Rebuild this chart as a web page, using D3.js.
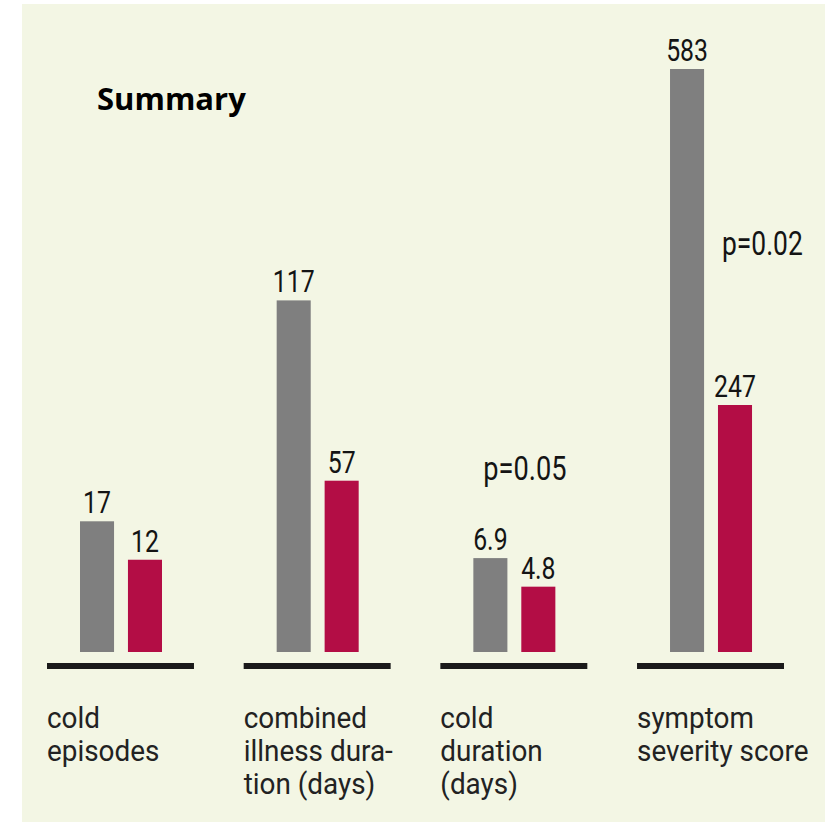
<!DOCTYPE html>
<html>
<head>
<meta charset="utf-8">
<script src="https://cdn.jsdelivr.net/npm/d3@7"></script>
<style>
  body { margin: 0; background: #fff; }
  svg { display: block; }
</style>
</head>
<body>
<div id="chart"></div>
<script>
// data
var categories = ['cold episodes', 'combined illness duration (days)', 'cold duration (days)', 'symptom severity score'];
var labelLines = [
  ['cold', 'episodes'],
  ['combined', 'illness dura-', 'tion (days)'],
  ['cold', 'duration', '(days)'],
  ['symptom', 'severity score']
];
var series = ['control', 'treated'];
var controlValues = [17, 117, 6.9, 583];
var treatedValues = [12, 57, 4.8, 247];
var valueLabels = [['17', '12'], ['117', '57'], ['6.9', '4.8'], ['583', '247']];
var pValues = [null, null, 'p=0.05', 'p=0.02'];
// each panel has its own scale in the original graphic
var scaleMax = [77, 197, 43.5, 592];

var width = 825;
var height = 823;
var baseY = 652;
var topY = 60;
var font = 'Roboto, "Liberation Sans", sans-serif';

var colors = d3.scaleOrdinal()
              .domain(series)
              .range(['#7f7f7f', '#b30d45']);

var x0 = d3.scaleBand()
           .domain(categories)
           .range([47, 784])
           .paddingInner(0.2527);

var x1 = d3.scaleBand()
           .domain(series)
           .range([33, 115])
           .paddingInner(0.29);

var svg = d3.select('#chart')
            .append('svg')
            .attr('width', width)
            .attr('height', height);

// cream panel
svg.append('rect')
   .attr('x', 22)
   .attr('y', 4)
   .attr('width', width - 22)
   .attr('height', 818)
   .attr('fill', '#f3f6e4');

svg.append('text')
   .attr('x', 97)
   .attr('y', 110)
   .attr('font-family', '"Open Sans", sans-serif')
   .attr('font-weight', 'bold')
   .attr('font-size', 31)
   .attr('fill', '#000')
   .text('Summary');

// condensed text: squeeze horizontally
function narrowText(parent, x, y, sx, size, anchor, txt) {
  return parent.append('text')
               .attr('transform', 'translate(' + x + ',' + y + ') scale(' + sx + ',1)')
               .attr('text-anchor', anchor)
               .attr('font-family', font)
               .attr('font-size', size)
               .attr('fill', '#141414')
               .text(txt);
}

var groups = svg.selectAll('.group')
                .data(categories)
                .enter()
                .append('g')
                  .attr('class', 'group')
                  .attr('transform', function (d) { return 'translate(' + x0(d) + ',0)'; });

groups.each(function (cat, i) {
  var g = d3.select(this);
  var y = d3.scaleLinear()
            .domain([0, scaleMax[i]])
            .range([baseY, topY]);
  var vals = [controlValues[i], treatedValues[i]];

  g.selectAll('rect')
   .data(series)
   .enter()
   .append('rect')
     .attr('x', function (s) { return x1(s); })
     .attr('width', x1.bandwidth())
     .attr('y', function (s, j) { return y(vals[j]); })
     .attr('height', function (s, j) { return baseY - y(vals[j]); })
     .attr('fill', function (s) { return colors(s); });

  series.forEach(function (s, j) {
    narrowText(g, x1(s) + x1.bandwidth() / 2, y(vals[j]) - 8, 0.8, 31, 'middle', valueLabels[i][j]);
  });

  // baseline bar
  g.append('rect')
   .attr('x', 0)
   .attr('y', baseY + 11)
   .attr('width', x0.bandwidth())
   .attr('height', 6)
   .attr('fill', '#1a1a1a');

  var lbl = g.append('text')
             .attr('transform', 'translate(0,728) scale(0.93,1)')
             .attr('font-family', font)
             .attr('font-size', 30)
             .attr('fill', '#222');
  lbl.selectAll('tspan')
     .data(labelLines[i])
     .enter()
     .append('tspan')
       .attr('x', 0)
       .attr('y', function (d, k) { return k * 33; })
       .text(function (d) { return d; });
});

// p-values
narrowText(svg, x0(categories[2]) + 43, 480, 0.8, 34, 'start', pValues[2]);
narrowText(svg, x0(categories[3]) + 85, 255, 0.8, 33, 'start', pValues[3]);
</script>
</body>
</html>
